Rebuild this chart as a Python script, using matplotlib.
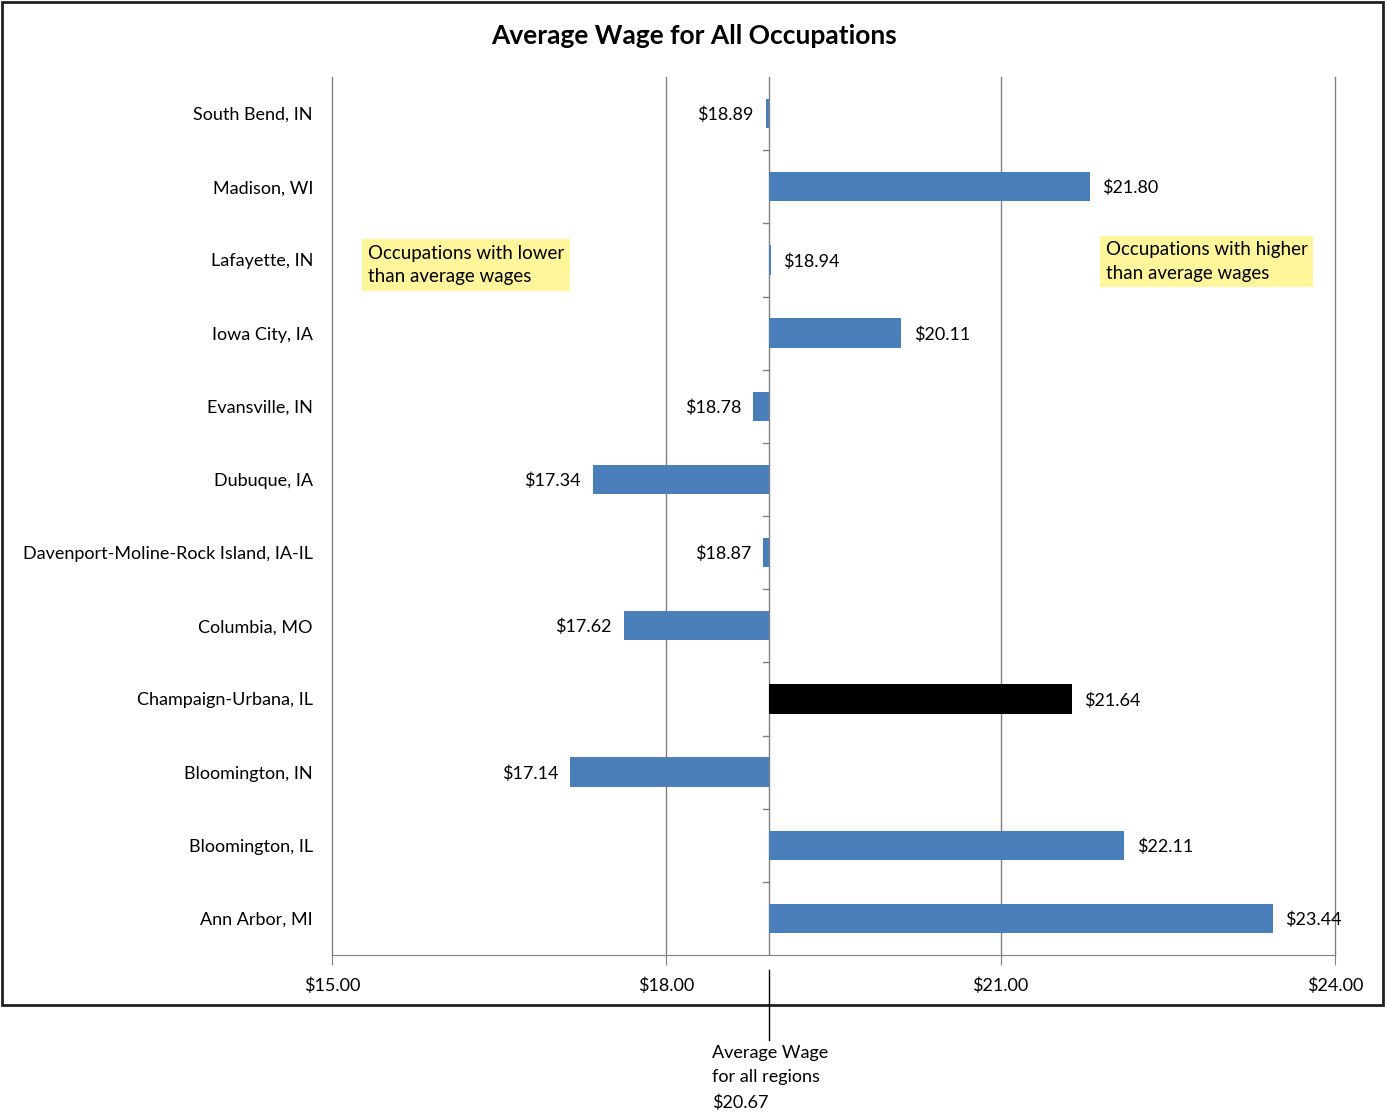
import matplotlib.pyplot as plt
from matplotlib.patches import Rectangle
from matplotlib.lines import Line2D

plt.rcParams['font.family'] = ['Lato', 'DejaVu Sans']

regions = ['Ann Arbor, MI', 'Bloomington, IL', 'Bloomington, IN', 'Champaign-Urbana, IL',
           'Columbia, MO', 'Davenport-Moline-Rock Island, IA-IL', 'Dubuque, IA',
           'Evansville, IN', 'Iowa City, IA', 'Lafayette, IN', 'Madison, WI', 'South Bend, IN']
wages = [23.44, 22.11, 17.14, 21.64, 17.62, 18.87, 17.34, 18.78, 20.11, 18.94, 21.80, 18.89]
highlight = 'Champaign-Urbana, IL'
base = 18.92
xticks = [15, 18, 21, 24]

blue = '#4A7EBB'
fs = 13

fig = plt.figure(figsize=(13.85, 11.18), dpi=100)
ax = fig.add_axes([332 / 1385, 1 - 955 / 1118, 1003 / 1385, 878 / 1118])

y = list(range(len(regions)))
colors = ['black' if r == highlight else blue for r in regions]
ax.barh(y, [w - base for w in wages], left=base, height=0.4, color=colors, zorder=3)

for yi, w in zip(y, wages):
    if w >= base:
        ax.text(w + 0.11, yi - 0.02, f'${w:.2f}', va='center', ha='left', fontsize=fs, zorder=4)
    else:
        ax.text(w - 0.11, yi - 0.02, f'${w:.2f}', va='center', ha='right', fontsize=fs, zorder=4)

ax.set_xlim(15, 24)
ax.set_ylim(-0.5, len(regions) - 0.5)
ax.set_xticks(xticks)
ax.set_xticklabels([f'${t:.2f}' for t in xticks], fontsize=fs)
ax.tick_params(axis='x', length=7, color='#808080', pad=9)
for t in xticks:
    ax.axvline(t, color='#808080', lw=1, zorder=0, clip_on=False)

# category labels on the left, tick marks at the baseline
ax.set_yticks([])
for yi, r in zip(y, regions):
    ax.text(-0.019, yi - 0.02, r, transform=ax.get_yaxis_transform(), ha='right', va='center',
            fontsize=fs)
ax.axvline(base, color='#808080', lw=1, zorder=2)
for b in [i + 0.5 for i in y[:-1]]:
    ax.plot([base - 0.05, base], [b, b], color='#808080', lw=1, zorder=2)

for s in ['top', 'right', 'left']:
    ax.spines[s].set_visible(False)
ax.spines['bottom'].set_color('#808080')

fig.text(0.501, 1 - 36 / 1118, 'Average Wage for All Occupations', fontsize=19,
         fontweight='bold', ha='center', va='center')

ax.text(0.036, 0.786, 'Occupations with lower\nthan average wages', transform=ax.transAxes,
        fontsize=13.5, va='center', ha='left', linespacing=1.45,
        bbox=dict(facecolor='#FFF59A', edgecolor='none', pad=4))
ax.text(0.7715, 0.790, 'Occupations with higher\nthan average wages', transform=ax.transAxes,
        fontsize=13.5, va='center', ha='left', linespacing=1.45,
        bbox=dict(facecolor='#FFF59A', edgecolor='none', pad=4))

# outer frame
fig.patches.append(Rectangle((2 / 1385, 1 - 1005 / 1118), 1381 / 1385, 1003 / 1118,
                             transform=fig.transFigure, fill=False, edgecolor='#222222', lw=2))

# average wage annotation below the frame
fig.lines.append(Line2D([769 / 1385, 769 / 1385], [1 - 970 / 1118, 1 - 1040 / 1118],
                        transform=fig.transFigure, color='black', lw=1))
fig.text(712 / 1385, 1 - 1045 / 1118, 'Average Wage\nfor all regions\n$20.67',
         ha='left', va='top', fontsize=13, linespacing=1.65)

fig.savefig('out.png', dpi=100)
